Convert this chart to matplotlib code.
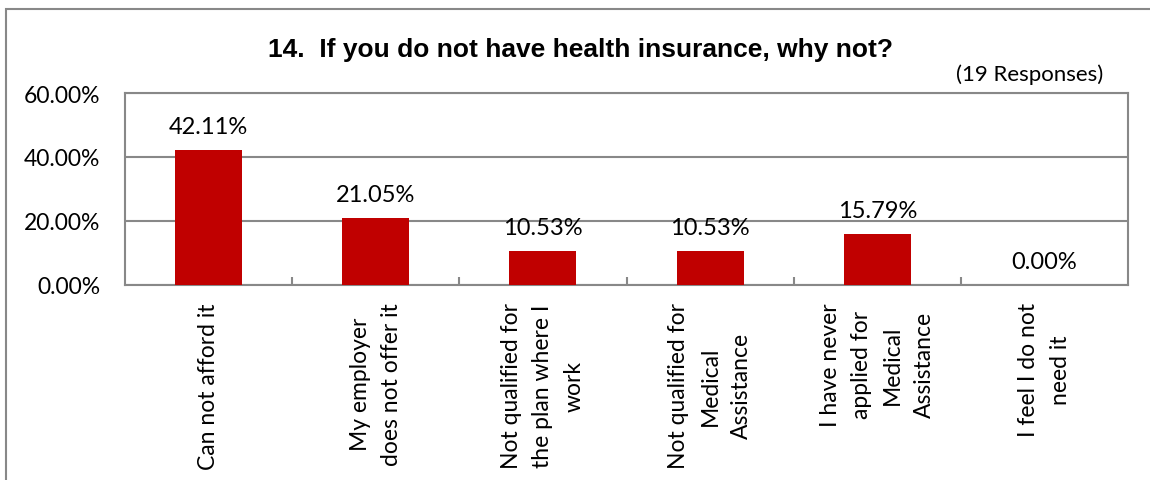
import matplotlib.pyplot as plt
from matplotlib.patches import Rectangle
from matplotlib.ticker import FuncFormatter, MultipleLocator

CATEGORIES = [
    "Can not afford it",
    "My employer\ndoes not offer it",
    "Not qualified for\nthe plan where I\nwork",
    "Not qualified for\nMedical\nAssistance",
    "I have never\napplied for\nMedical\nAssistance",
    "I feel I do not\nneed it",
]
PERCENTS = [42.11, 21.05, 10.53, 10.53, 15.79, 0.00]

TITLE = "14.  If you do not have health insurance, why not?"
SUBTITLE = "(19 Responses)"

BAR_COLOR = "#C00000"
FRAME_COLOR = "#888888"
TEXT_FONT = ["Lato", "DejaVu Sans"]

fig = plt.figure(figsize=(11.5, 4.81), dpi=100)

# outer chart border, running off the right and bottom edges
fig.patches.append(
    Rectangle(
        (6 / 1150, -0.2), 1.2, 1.2 - 10 / 481,
        transform=fig.transFigure, fill=False,
        edgecolor=FRAME_COLOR, linewidth=1.5,
    )
)

ax = fig.add_axes([125 / 1150, 1 - 286 / 481, 1003 / 1150, 192 / 481])

x = range(len(CATEGORIES))
ax.bar(x, PERCENTS, width=0.4, color=BAR_COLOR, zorder=3)

for xi, value in zip(x, PERCENTS):
    ax.annotate(
        f"{value:.2f}%", (xi, value), xytext=(0, 17), textcoords="offset points",
        ha="center", va="center", fontsize=17, family=TEXT_FONT,
    )

ax.set_xlim(-0.5, len(CATEGORIES) - 0.5)
ax.set_ylim(0, 60)
ax.yaxis.set_major_locator(MultipleLocator(20))
ax.yaxis.set_major_formatter(FuncFormatter(lambda v, _: f"{v:.2f}%"))
ax.grid(axis="y", color=FRAME_COLOR, linewidth=1.5, zorder=0)

for spine in ax.spines.values():
    spine.set_color(FRAME_COLOR)
    spine.set_linewidth(1.5)

ax.tick_params(axis="y", length=0, pad=18, labelsize=16.5)
for label in ax.get_yticklabels():
    label.set_family(TEXT_FONT)

# category boundary ticks pointing up from the baseline
ax.set_xticks([i + 0.5 for i in range(len(CATEGORIES) - 1)], minor=True)
ax.set_xticks([])
ax.tick_params(axis="x", which="minor", direction="in", length=6,
               width=1.5, color=FRAME_COLOR)

for xi, name in zip(x, CATEGORIES):
    ax.text(
        xi, -0.09, name, transform=ax.get_xaxis_transform(),
        rotation=90, ha="center", va="top", multialignment="center",
        fontsize=16.5, family=TEXT_FONT, linespacing=1.6,
    )

fig.text(580 / 1150, 1 - 50 / 481, TITLE, ha="center", va="center",
         fontsize=19, fontweight="bold", family=["Liberation Sans", "DejaVu Sans"])
fig.text(1103 / 1150, 1 - 75 / 481, SUBTITLE, ha="right", va="center",
         fontsize=16, family=TEXT_FONT)

fig.savefig("out.png", dpi=100)
